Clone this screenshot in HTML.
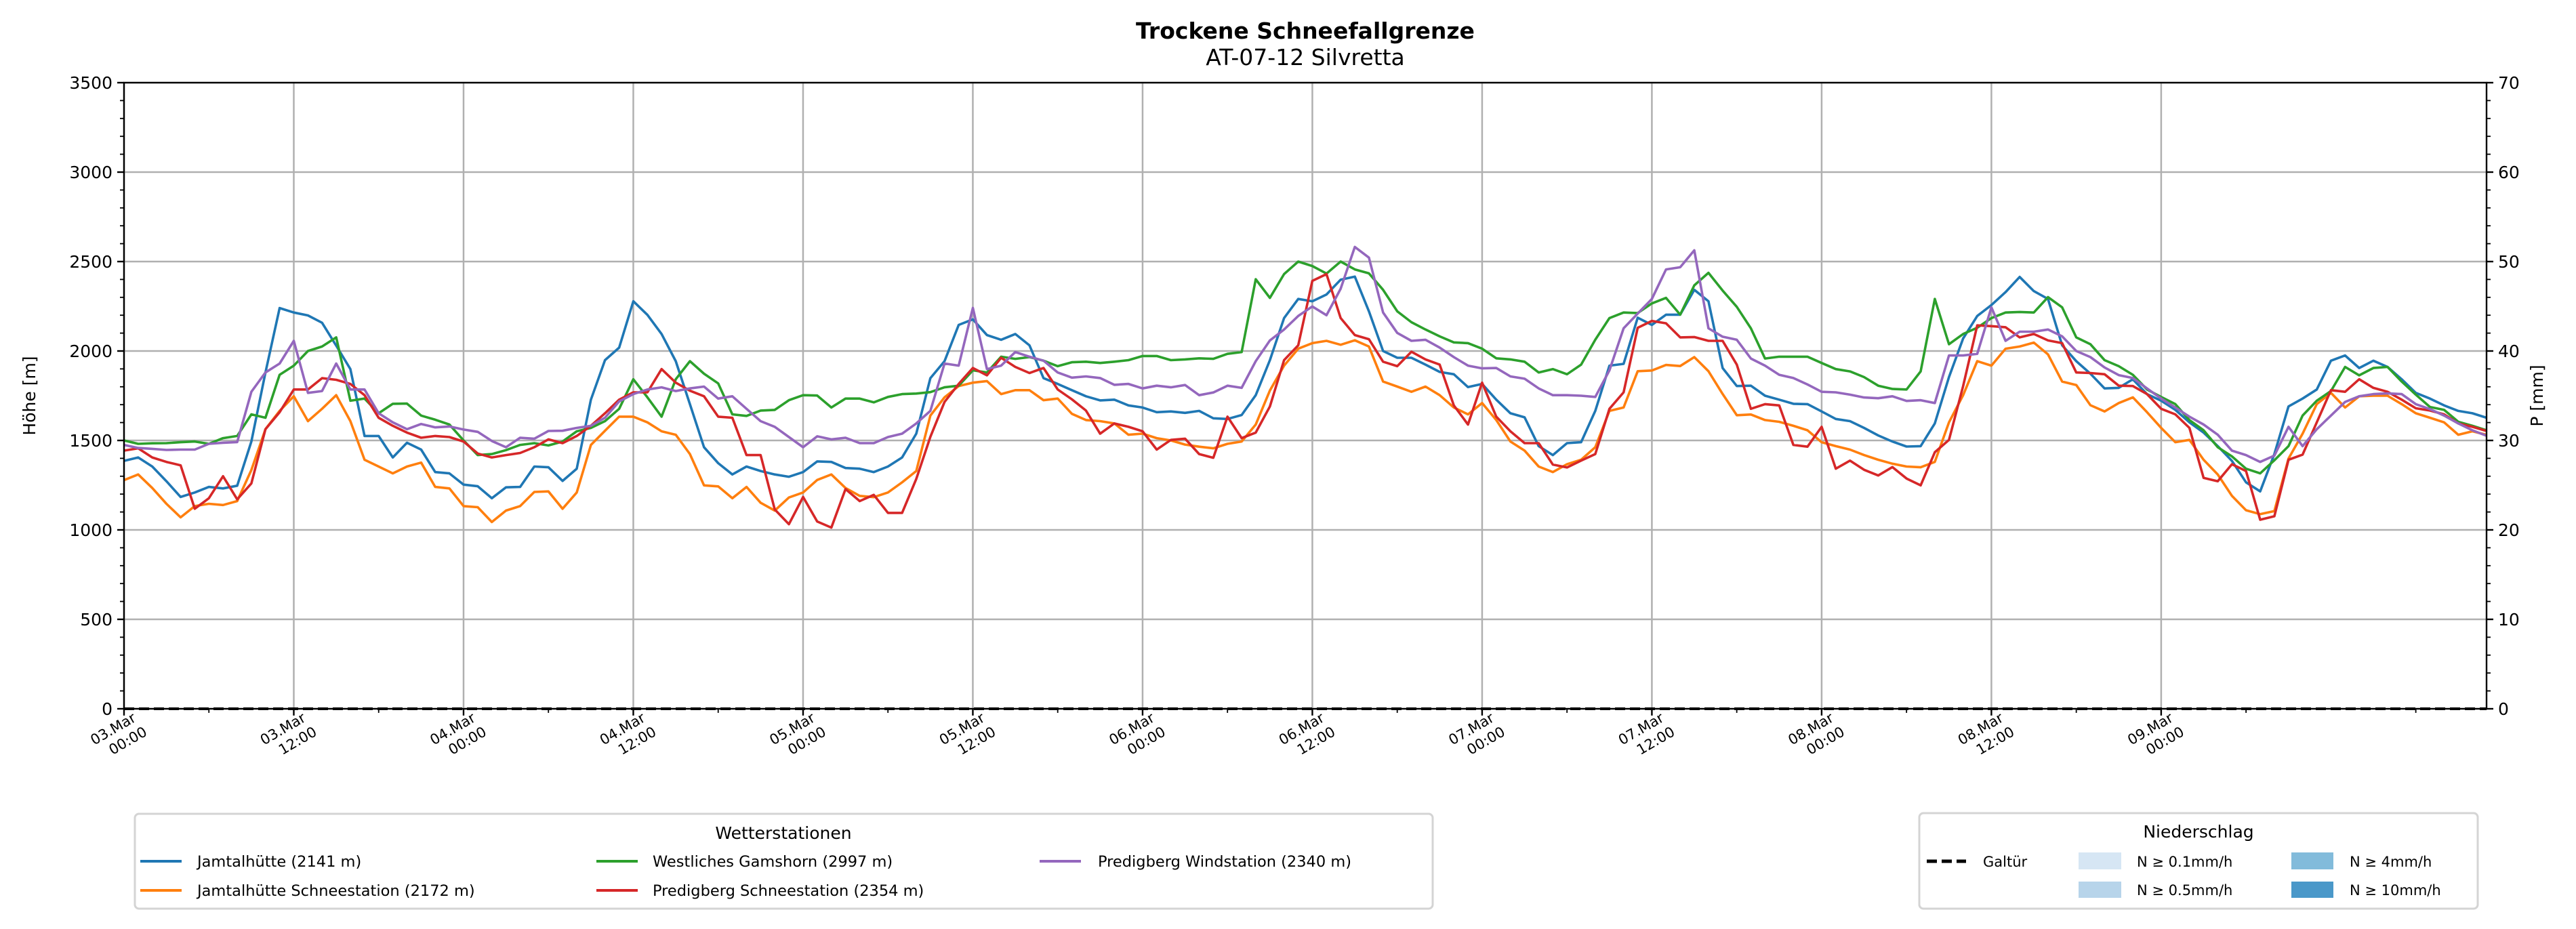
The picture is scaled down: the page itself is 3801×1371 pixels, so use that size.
<!DOCTYPE html>
<html><head><meta charset="utf-8"><style>
html,body{margin:0;padding:0;background:#fff;}
svg{display:block;font-family:"DejaVu Sans","Liberation Sans",sans-serif;}
</style></head><body>
<svg id="chart" xmlns="http://www.w3.org/2000/svg" width="3801" height="1371" viewBox="0 0 3801 1371">
<rect width="3801" height="1371" fill="#fff"/>
<text x="1926" y="57" text-anchor="middle" font-size="33" font-weight="bold">Trockene Schneefallgrenze</text>
<text x="1926" y="96" text-anchor="middle" font-size="33">AT-07-12 Silvretta</text>
<g id="grid"></g>
<g id="series"></g>
<g id="axes"></g>
<text transform="translate(52,584) rotate(-90)" text-anchor="middle" font-size="25">Höhe [m]</text>
<text transform="translate(3752,584) rotate(-90)" text-anchor="middle" font-size="25">P [mm]</text>

<g>
<rect x="199" y="1201" width="1915" height="140" rx="6" fill="#fff" stroke="#d4d4d4" stroke-width="3"/>
<text x="1156" y="1238" text-anchor="middle" font-size="25">Wetterstationen</text>
<g><line x1="207" y1="1271" x2="268" y2="1271" stroke="#1f77b4" stroke-width="4"/><text x="291" y="1279" font-size="22.5">Jamtalhütte (2141 m)</text></g>
<g><line x1="207" y1="1314" x2="268" y2="1314" stroke="#ff7f0e" stroke-width="4"/><text x="291" y="1322" font-size="22.5">Jamtalhütte Schneestation (2172 m)</text></g>
<g><line x1="880" y1="1271" x2="941" y2="1271" stroke="#2ca02c" stroke-width="4"/><text x="963" y="1279" font-size="22.5">Westliches Gamshorn (2997 m)</text></g>
<g><line x1="880" y1="1314" x2="941" y2="1314" stroke="#d62728" stroke-width="4"/><text x="963" y="1322" font-size="22.5">Predigberg Schneestation (2354 m)</text></g>
<g><line x1="1534" y1="1271" x2="1595" y2="1271" stroke="#9467bd" stroke-width="4"/><text x="1620" y="1279" font-size="22.5">Predigberg Windstation (2340 m)</text></g>
</g>

<g>
<rect x="2832" y="1200" width="824" height="141" rx="6" fill="#fff" stroke="#d4d4d4" stroke-width="3"/>
<text x="3244" y="1236" text-anchor="middle" font-size="25">Niederschlag</text>
<g><line x1="2843" y1="1271" x2="2901" y2="1271" stroke="#000" stroke-width="5" stroke-dasharray="15,7"/><text x="2926" y="1279" font-size="21">Galtür</text></g>
<g><rect x="3067" y="1258" width="63" height="25" fill="#d6e6f4"/><text x="3153" y="1279" font-size="21">N ≥ 0.1mm/h</text></g>
<g><rect x="3067" y="1301" width="63" height="24" fill="#b7d4ea"/><text x="3153" y="1321" font-size="21">N ≥ 0.5mm/h</text></g>
<g><rect x="3381" y="1258" width="62" height="25" fill="#82bbdb"/><text x="3467" y="1279" font-size="21">N ≥ 4mm/h</text></g>
<g><rect x="3381" y="1301" width="62" height="24" fill="#4a98c9"/><text x="3467" y="1321" font-size="21">N ≥ 10mm/h</text></g>
</g>
</svg>
<script>
const yTicks = [0,500,1000,1500,2000,2500,3000,3500];
const y2Ticks = [0,10,20,30,40,50,60,70];
const xTickHours = [0,12,24,36,48,60,72,84,96,108,120,132,144];
const xTickDates = ["03.Mar","03.Mar","04.Mar","04.Mar","05.Mar","05.Mar","06.Mar","06.Mar","07.Mar","07.Mar","08.Mar","08.Mar","09.Mar"];
const xTickTimes = ["00:00","12:00","00:00","12:00","00:00","12:00","00:00","12:00","00:00","12:00","00:00","12:00","00:00"];
const jamtal = [1386,1405,1354,1272,1184,1209,1240,1232,1247,1494,1880,2240,2215,2199,2158,2030,1899,1525,1525,1405,1487,1449,1323,1316,1253,1244,1177,1238,1240,
1354,1350,1274,1342,1728,1949,2019,2278,2202,2095,1943,1703,1462,1373,1310,1354,1329,1310,1297,1323,1383,1380,1346,1342,1323,1354,1405,1538,1848,
1943,2146,2177,2089,2063,2095,2032,1848,1816,1781,1747,1724,1728,1696,1684,1658,1662,1654,1665,1624,1620,1642,1753,1949,2184,2291,2278,2316,
2399,2416,2222,2000,1962,1962,1924,1883,1870,1798,1816,1728,1652,1629,1468,1418,1485,1490,1665,1918,1928,2186,2146,2203,2203,2342,2278,1905,
1804,1806,1750,1728,1705,1703,1662,1620,1608,1570,1528,1494,1466,1468,1595,1854,2070,2196,2257,2329,2414,2335,2291,2032,1943,1873,1791,1794,
1842,1759,1722,1671,1601,1544,1468,1386,1266,1215,1424,1690,1734,1785,1946,1975,1905,1946,1911,1842,1766,1734,1696,1665,1652,1627];
const jamtalSchnee = [1278,1310,1234,1146,1070,1133,1146,1139,1161,1335,1563,1665,1747,1608,1677,1753,1608,1392,1354,1316,1354,1376,1240,1232,1133,1127,1044,1108,1133,
1212,1215,1118,1209,1475,1554,1633,1633,1601,1551,1532,1424,1249,1243,1177,1240,1152,1108,1181,1209,1279,1310,1234,1190,1183,1209,1266,1329,1639,
1741,1804,1823,1832,1759,1781,1781,1725,1734,1649,1614,1608,1595,1532,1538,1513,1500,1477,1465,1456,1481,1494,1589,1779,1918,2013,2044,2057,
2035,2060,2025,1829,1801,1772,1801,1753,1684,1646,1709,1614,1494,1443,1354,1323,1367,1392,1462,1665,1684,1887,1891,1922,1916,1966,1887,1760,
1641,1645,1614,1604,1582,1557,1490,1468,1449,1418,1392,1370,1354,1350,1380,1601,1753,1943,1918,2013,2025,2047,1981,1829,1810,1697,1662,1709,
1741,1658,1570,1490,1503,1392,1310,1190,1110,1088,1105,1399,1538,1703,1766,1684,1747,1750,1750,1703,1652,1627,1601,1532,1551,1532];
const gamshorn = [1500,1481,1484,1485,1490,1494,1481,1513,1525,1646,1627,1867,1918,2000,2025,2076,1722,1734,1652,1705,1706,1639,1616,1589,1500,1418,1424,1446,1475,
1485,1472,1494,1551,1570,1608,1677,1842,1741,1633,1842,1943,1873,1819,1646,1637,1667,1671,1725,1753,1751,1684,1734,1734,1713,1743,1759,1762,1770,
1797,1806,1892,1880,1968,1956,1966,1946,1915,1937,1940,1933,1940,1949,1972,1972,1949,1953,1959,1956,1984,1994,2401,2297,2430,2500,2475,2433,
2500,2456,2434,2342,2222,2161,2120,2082,2048,2044,2013,1959,1953,1940,1880,1899,1870,1924,2063,2184,2215,2212,2266,2297,2203,2367,2437,2338,
2247,2127,1958,1968,1968,1968,1933,1899,1886,1854,1806,1788,1785,1886,2291,2038,2095,2130,2184,2215,2218,2215,2301,2244,2076,2038,1949,1915,
1867,1785,1743,1703,1614,1557,1462,1411,1342,1316,1389,1468,1639,1722,1776,1911,1864,1905,1911,1829,1756,1687,1671,1604,1582,1557];
const predigSchnee = [1443,1456,1405,1380,1361,1118,1177,1300,1171,1260,1563,1658,1785,1785,1848,1839,1816,1753,1627,1582,1544,1515,1525,1519,1494,1427,1405,1418,1430,
1462,1506,1485,1525,1582,1652,1728,1769,1769,1899,1823,1778,1747,1633,1627,1418,1418,1114,1032,1184,1047,1013,1228,1161,1196,1095,1095,1285,1520,
1715,1816,1905,1864,1962,1911,1877,1905,1785,1730,1667,1538,1595,1576,1551,1449,1503,1510,1424,1403,1633,1513,1544,1690,1949,2032,2392,2430,
2184,2089,2066,1940,1915,1996,1953,1924,1696,1589,1823,1633,1551,1485,1485,1365,1349,1387,1424,1677,1769,2130,2168,2155,2076,2078,2057,2057,
1924,1677,1703,1696,1475,1465,1576,1342,1387,1336,1304,1351,1287,1249,1434,1503,1804,2143,2139,2133,2076,2095,2059,2044,1880,1877,1870,1806,
1804,1759,1677,1646,1570,1291,1272,1367,1329,1057,1076,1392,1421,1601,1781,1772,1842,1794,1772,1728,1680,1667,1646,1595,1576,1553];
const predigWind = [1475,1458,1453,1447,1449,1449,1481,1487,1491,1772,1880,1930,2057,1766,1776,1930,1785,1785,1652,1601,1563,1592,1573,1578,1561,1548,1497,1462,1515,
1510,1553,1554,1570,1582,1627,1718,1759,1785,1797,1776,1791,1801,1734,1747,1677,1608,1576,1519,1462,1523,1506,1515,1485,1485,1519,1538,1595,1665,
1930,1918,2241,1899,1918,1994,1968,1946,1880,1851,1858,1849,1811,1816,1791,1806,1797,1810,1753,1768,1806,1794,1943,2059,2120,2196,2249,2200,
2348,2582,2522,2215,2101,2057,2063,2019,1966,1918,1903,1905,1858,1845,1791,1753,1753,1750,1743,1892,2127,2209,2291,2456,2468,2563,2127,2080,
2063,1958,1918,1867,1849,1813,1772,1769,1756,1740,1736,1747,1721,1725,1709,1975,1975,1984,2244,2057,2108,2108,2120,2082,2000,1966,1908,1865,
1849,1791,1734,1684,1633,1589,1532,1443,1418,1380,1415,1576,1468,1563,1639,1715,1747,1759,1763,1759,1703,1675,1639,1595,1557,1526];
const galtuer = new Array(168).fill(0);

const NS="http://www.w3.org/2000/svg";
const L=183,R=3669,T=122,B=1046,HMAX=167;
function xs(h){return L+(R-L)*h/HMAX;}
function ys(v){return B-(B-T)*v/3500;}
function ys2(p){return B-(B-T)*p/70;}
function mk(parent,tag,attrs){const e=document.createElementNS(NS,tag);for(const k in attrs)e.setAttribute(k,attrs[k]);parent.appendChild(e);return e;}
const grid=document.getElementById('grid'),axes=document.getElementById('axes'),series=document.getElementById('series');

yTicks.forEach(v=>{
  const g=mk(grid,'line',{x1:L,x2:R,y1:ys(v),y2:ys(v),stroke:'#b0b0b0','stroke-width':2.5});
  
  
  mk(axes,'line',{x1:L-10,x2:L,y1:ys(v),y2:ys(v),stroke:'#000','stroke-width':2.4});
  const t=mk(axes,'text',{x:L-17,y:ys(v)+9,'text-anchor':'end','font-size':25});
  t.textContent=v;
  
  
});
for(let v=0;v<=3500;v+=100){mk(axes,'line',{x1:L-6,x2:L,y1:ys(v),y2:ys(v),stroke:'#000','stroke-width':1.8});}
y2Ticks.forEach(p=>{
  mk(axes,'line',{x1:R,x2:R+10,y1:ys2(p),y2:ys2(p),stroke:'#000','stroke-width':2.4});
  const t=mk(axes,'text',{x:R+17,y:ys2(p)+9,'font-size':25});
  t.textContent=p;
  
  
});
for(let p=0;p<=70;p+=2){mk(axes,'line',{x1:R,x2:R+6,y1:ys2(p),y2:ys2(p),stroke:'#000','stroke-width':1.8});}
xTickHours.forEach((h,i)=>{
  const g=mk(grid,'line',{x1:xs(h),x2:xs(h),y1:T,y2:B,stroke:'#b0b0b0','stroke-width':2.5});
  
  
  mk(axes,'line',{x1:xs(h),x2:xs(h),y1:B,y2:B+10,stroke:'#000','stroke-width':2.4});
  const t=mk(axes,'text',{transform:`translate(${xs(h)-6},1085) rotate(-30)`,'text-anchor':'middle','font-size':21});
  
  
  const a=mk(t,'tspan',{x:-4,y:-6});a.textContent=xTickDates[i];
  const b=mk(t,'tspan',{x:6,y:20});b.textContent=xTickTimes[i];
});
for(let h=6;h<=HMAX;h+=12){mk(axes,'line',{x1:xs(h),x2:xs(h),y1:B,y2:B+6,stroke:'#000','stroke-width':1.8});}

const defs=[["line-jamtal",jamtal,"#1f77b4"],["line-jamtal-schnee",jamtalSchnee,"#ff7f0e"],["line-gamshorn",gamshorn,"#2ca02c"],["line-predigberg-schnee",predigSchnee,"#d62728"],["line-predigberg-wind",predigWind,"#9467bd"]];
defs.forEach(([name,arr,col])=>{
  const d=arr.map((v,i)=>(i?'L':'M')+xs(i).toFixed(1)+','+ys(v).toFixed(1)).join('');
  const p=mk(series,'path',{d:d,fill:'none',stroke:col,'stroke-width':3.6,'stroke-linejoin':'round'});
  
  
});
const gd=galtuer.map((v,i)=>(i?'L':'M')+xs(i).toFixed(1)+','+ys2(v).toFixed(1)).join('');
const gp=mk(series,'path',{d:gd,fill:'none',stroke:'#000','stroke-width':4,'stroke-dasharray':'15,7'});



mk(axes,'rect',{x:L,y:T,width:R-L,height:B-T,fill:'none',stroke:'#000','stroke-width':2.4});
</script>
</body></html>
